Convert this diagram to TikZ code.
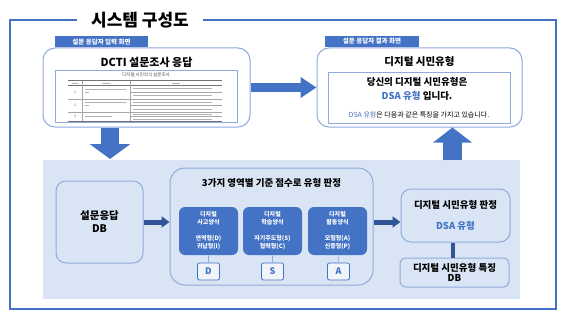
\documentclass[tikz,border=0pt]{standalone}
\usepackage{fontspec}
\setmainfont{Noto Sans CJK KR}
\usetikzlibrary{arrows.meta}
\definecolor{mainblue}{HTML}{4472C4}
\definecolor{darkblue}{HTML}{2F5597}
\definecolor{lineblue}{HTML}{8FAADC}
\definecolor{panelblue}{HTML}{D9E5F4}

\begin{document}
\begin{tikzpicture}[x=1pt,y=-1pt,line width=1pt,
  screen/.style={draw=lineblue,fill=white,rounded corners=12pt,inner sep=0pt},
  tab/.style={fill=mainblue,text=white,inner sep=0pt,font=\fontsize{6.5}{7}\selectfont\bfseries},
  softbox/.style={draw=lineblue,fill=panelblue,rounded corners=10pt,inner sep=0pt,align=center},
  stylebox/.style={fill=mainblue,text=white,rounded corners=6pt,inner sep=0pt,minimum width=59pt,minimum height=48pt,align=center,font=\fontsize{6}{8}\selectfont\bfseries},
  letterbox/.style={draw=mainblue,fill=panelblue!40!white,text=mainblue,rounded corners=2pt,line width=0.8pt,minimum width=22pt,minimum height=17pt,inner sep=0pt,font=\fontsize{9}{10}\selectfont\bfseries},
  bigarrow/.style={draw=mainblue},
  smallarrow/.style={draw=darkblue,line width=5pt,-{Triangle[width=11pt,length=8pt]}}]
  \useasboundingbox (0,0) rectangle (564,313);
  % frame with title
  \draw[mainblue,line width=1.2pt] (10,20) rectangle (556,309);
  \node[fill=white,inner xsep=14pt,inner ysep=2pt,font=\fontsize{17}{18}\selectfont\bfseries] (title) at (140,20) {시스템 구성도};

  % input screen
  \node[tab,minimum width=93pt,minimum height=11pt] (intab) at (101.5,42) {설문 응답자 입력 화면};
  \node[screen,minimum width=207pt,minimum height=79pt] (inscreen) at (146.5,87.5) {};
  \node[font=\fontsize{11}{12}\selectfont\bfseries] (intitle) at (146.5,62) {DCTI 설문조사 응답};
  % survey sheet
  \node[draw=lineblue,line width=0.7pt,minimum width=182pt,minimum height=52pt,inner sep=0pt] (sheet) at (146,96) {};
  \node[font=\fontsize{4.5}{5}\selectfont,text=black!70] (sheettitle) at (146,75) {디지털 시민의식 설문조사};
  \draw[black!55,line width=0.6pt] (68,80.5)--(222,80.5) (68,85)--(222,85) (68,121)--(222,121);
  \draw[black!35,line width=0.4pt] (68,99)--(222,99) (68,112)--(222,112)
    (130,92)--(222,92) (130,105.5)--(222,105.5) (130,116.5)--(222,116.5)
    (82,80.5)--(82,121) (130,80.5)--(130,121);
  \draw[black!30,line width=1pt] (72,83)--(78,83) (102,83)--(110,83) (172,83)--(180,83);
  \foreach \r/\n in {92/1,105.5/2,116.5/3}
    \node[font=\fontsize{3.5}{4}\selectfont,text=black!60,inner sep=0pt] at (75,\r) {\n};
  \foreach \r in {89,102.5}
    \draw[black!30,line width=0.9pt] (85,\r)--(126,\r) (85,\r+3)--(89,\r+3);
  \draw[black!30,line width=0.9pt] (85,116.5)--(112,116.5);
  \foreach \r in {88.5,95.5,102,109,114.5,119}
    \draw[black!30,line width=0.9pt] (133,\r)--(212,\r);

  % result screen
  \node[tab,minimum width=94pt,minimum height=11pt] (outtab) at (372,41.5) {설문 응답자 결과 화면};
  \node[screen,minimum width=205pt,minimum height=79pt] (outscreen) at (419.5,87.5) {};
  \node[font=\fontsize{10.5}{12}\selectfont\bfseries] (outtitle) at (419.5,62) {디지털 시민유형};
  \node[draw=lineblue,line width=0.7pt,minimum width=182pt,minimum height=51pt,inner sep=0pt] (result) at (419,97.5) {};
  \node[font=\fontsize{9.5}{11}\selectfont\bfseries] (resline1) at (417,82) {당신의 디지털 시민유형은};
  \node[font=\fontsize{9.5}{11}\selectfont\bfseries] (resline2) at (417,95.5) {\textcolor{mainblue}{DSA 유형} 입니다.};
  \node[font=\fontsize{7}{8}\selectfont] (resline3) at (419,115) {\textcolor{mainblue}{DSA 유형}은 다음과 같은 특징을 가지고 있습니다.};

  % processing panel
  \node[fill=panelblue,minimum width=477pt,minimum height=139pt,inner sep=0pt] (panel) at (281.5,229.5) {};
  \node[softbox,minimum width=87pt,minimum height=82pt,font=\fontsize{10.5}{13}\selectfont\bfseries] (answerdb) at (99.5,222) {설문응답\\DB};
  \node[softbox,rounded corners=15pt,minimum width=203pt,minimum height=117pt] (scorebox) at (271.5,226.5) {};
  \node[font=\fontsize{9.5}{11}\selectfont\bfseries] (scoretitle) at (271.5,183) {3가지 영역별 기준 점수로 유형 판정};
  \node[stylebox] (think) at (208.5,231) {디지털\\사고양식\\[8pt]연역형(D)\\귀납형(I)};
  \node[stylebox] (learn) at (272.5,231) {디지털\\학습양식\\[8pt]자기주도형(S)\\협력형(C)};
  \node[stylebox] (act) at (337.5,231) {디지털\\활동양식\\[8pt]모험형(A)\\신중형(P)};
  \node[letterbox] (dletter) at (208.5,271.5) {D};
  \node[letterbox] (sletter) at (272.5,271.5) {S};
  \node[letterbox] (aletter) at (338.5,271.5) {A};
  \draw[lineblue,line width=0.7pt] (think)--(dletter) (learn)--(sletter) (act)--(aletter);
  \node[softbox,minimum width=109pt,minimum height=53pt] (judge) at (455.5,215.5) {};
  \node[font=\fontsize{9.5}{11}\selectfont\bfseries] (judgetitle) at (455.5,205) {디지털 시민유형 판정};
  \node[font=\fontsize{9.5}{11}\selectfont\bfseries,text=mainblue] (judgetype) at (455.5,226) {DSA 유형};
  \node[softbox,rounded corners=6pt,minimum width=109pt,minimum height=29pt,font=\fontsize{9.5}{10.5}\selectfont\bfseries] (traitdb) at (454.5,272.5) {디지털 시민유형 특징\\DB};

  % connectors
  \coordinate (downtip) at (110,159);
  \coordinate (uptail) at (452.5,160);
  \draw[bigarrow,line width=9pt,-{Triangle[width=20pt,length=16pt]}] (inscreen.east)--(outscreen.west);
  \draw[bigarrow,line width=18pt,-{Triangle[width=40pt,length=15pt]}] (inscreen.south -| downtip)--(downtip);
  \draw[bigarrow,line width=19pt,-{Triangle[width=38pt,length=15pt]}] (uptail)--(outscreen.south -| uptail);
  \draw[smallarrow] (answerdb.east)--(answerdb.east -| scorebox.west);
  \draw[smallarrow] (scorebox.east |- answerdb.east)--(answerdb.east -| judge.west);
  \draw[darkblue,line width=4pt] (judge.south -| uptail)--(traitdb.north -| uptail);
\end{tikzpicture}
\end{document}
